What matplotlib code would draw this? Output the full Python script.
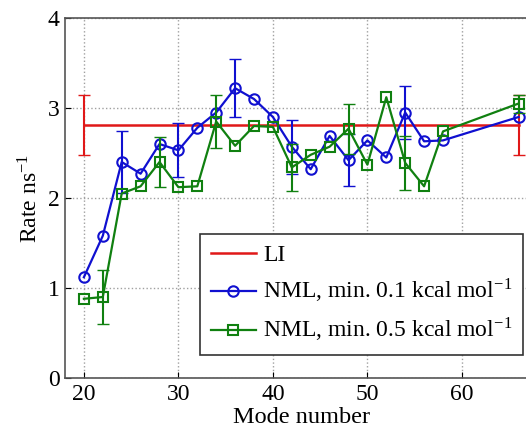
import numpy as np
import matplotlib.pyplot as plt

plt.rcParams['font.family'] = ['Liberation Serif', 'DejaVu Serif']
plt.rcParams['mathtext.fontset'] = 'stix'

modes = [20, 22, 24, 26, 28, 30, 32, 34, 36, 38, 40, 42, 44, 46, 48, 50, 52, 54, 56, 58, 66]
rate_01 = [1.12, 1.58, 2.40, 2.27, 2.60, 2.53, 2.78, 2.95, 3.22, 3.10, 2.90, 2.57, 2.32,
           2.69, 2.42, 2.64, 2.45, 2.95, 2.63, 2.64, 2.90]
rate_05 = [0.88, 0.90, 2.05, 2.13, 2.40, 2.12, 2.13, 2.85, 2.58, 2.80, 2.79, 2.34, 2.48,
           2.57, 2.77, 2.37, 3.12, 2.39, 2.13, 2.74, 3.05]

# only some points carry an error estimate
err_modes_01 = [24, 30, 36, 42, 48, 54]
err_01 = [0.34, 0.30, 0.32, 0.30, 0.29, 0.29]
err_modes_05 = [22, 28, 34, 42, 48, 54, 66]
err_05 = [0.30, 0.28, 0.29, 0.26, 0.28, 0.30, 0.10]

li_modes = [20, 66]
li_rate = [2.81, 2.81]
li_err = [0.33, 0.33]

blue = '#1010d0'
green = '#108010'
red = '#e01818'

fig = plt.figure(figsize=(5.26, 4.30), dpi=100)
ax = fig.add_axes([65/526, 52/430, 472.5/526, 360/430])

ax.plot(li_modes, li_rate, color=red, lw=1.8, label='LI')
ax.errorbar(li_modes, li_rate, yerr=li_err, fmt='none', ecolor=red, elinewidth=1.5, capsize=4)

def rate_at(ms, rates, m):
    return rates[ms.index(m)]

ax.plot(modes, rate_01, '-o', color=blue, mfc='none', mew=1.5, ms=7.5, lw=1.6,
        label='NML, min. 0.1 kcal mol$^{\\mathregular{-1}}$')
ax.errorbar(err_modes_01, [rate_at(modes, rate_01, m) for m in err_modes_01], yerr=err_01,
            fmt='none', ecolor=blue, elinewidth=1.5, capsize=4)

ax.plot(modes, rate_05, '-s', color=green, mfc='none', mew=1.5, ms=7, lw=1.6,
        label='NML, min. 0.5 kcal mol$^{\\mathregular{-1}}$')
ax.errorbar(err_modes_05, [rate_at(modes, rate_05, m) for m in err_modes_05], yerr=err_05,
            fmt='none', ecolor=green, elinewidth=1.5, capsize=4)

ax.set_xlim(18, 68)
ax.set_ylim(0, 4)
ax.set_xticks([20, 30, 40, 50, 60])
ax.set_yticks([0, 1, 2, 3, 4])
ax.grid(True, linestyle=':', color='#a0a0a0', lw=1)
ax.tick_params(direction='in', labelsize=17, length=4, pad=4, top=False, right=False)
for s in ax.spines.values():
    s.set_color('#555555')
    s.set_linewidth(1.2)

ax.set_xlabel('Mode number', fontsize=17.5, labelpad=2)
ax.set_ylabel('Rate ns$^{\\mathregular{-1}}$', fontsize=17, labelpad=4)

leg = ax.legend(loc='lower right', bbox_to_anchor=(0.969, 0.064), borderaxespad=0,
                fontsize=17, fancybox=False, framealpha=1, edgecolor='#333333',
                handlelength=1.9, handletextpad=0.3, labelspacing=0.45, borderpad=0.45)
leg.get_frame().set_linewidth(1.2)

fig.savefig('out.png', dpi=100)
